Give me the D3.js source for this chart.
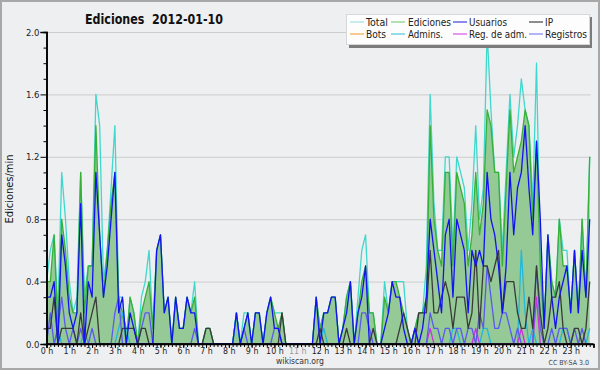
<!DOCTYPE html>
<html>
<head>
<meta charset="utf-8">
<script src="https://cdn.jsdelivr.net/npm/d3@7/dist/d3.min.js"></script>
<style>
  body { margin: 0; background: #fff; }
  svg { display: block; }
  text { font-family: "DejaVu Sans Condensed", "DejaVu Sans", sans-serif; }
</style>
</head>
<body>
<svg id="chart" width="600" height="370"></svg>
<script>
"use strict";

// values per 10 minutes, 144 slots (00:00 .. 23:50), in edits/min
var total = [
  0.4,0.6,0.7,0.2,1.1,0.8, 0.4,0.2,0.3,1.1,0.3,0.5, 0.5,1.6,1.4,0.4,0.6,1.0, 1.4,0.3,0.3,0.0,0.3,0.2,
  0.0,0.3,0.4,0.6,0.1,0.6, 0.7,0.2,0.3,0.0,0.3,0.1, 0.1,0.3,0.2,0.4,0.0,0.0, 0.1,0.1,0.0,0.0,0.0,0.0,
  0.0,0.0,0.2,0.0,0.2,0.2, 0.0,0.2,0.2,0.0,0.2,0.3, 0.2,0.2,0.2,0.0,0.0,0.0, 0.0,0.0,0.0,0.0,0.0,0.3,
  0.1,0.2,0.2,0.3,0.3,0.0, 0.1,0.3,0.4,0.0,0.3,0.6, 0.7,0.2,0.2,0.0,0.0,0.4, 0.2,0.4,0.4,0.4,0.4,0.1,
  0.0,0.1,0.2,0.2,0.5,1.6, 0.9,0.6,0.6,1.2,1.2,0.6, 1.2,1.1,1.0,0.6,0.9,1.4, 0.8,1.0,2.0,1.5,1.1,1.1,
  0.6,1.1,1.6,1.2,1.4,1.7, 1.5,1.4,0.9,1.8,0.5,0.1, 0.7,0.4,0.3,0.8,0.6,0.6, 0.2,0.6,0.2,0.8,0.3,1.2
];
var ediciones = [
  0.4,0.4,0.7,0.1,0.8,0.6, 0.3,0.2,0.2,1.1,0.2,0.5, 0.5,1.4,0.7,0.3,0.6,0.9, 1.1,0.3,0.2,0.0,0.3,0.2,
  0.0,0.2,0.3,0.4,0.1,0.6, 0.7,0.2,0.3,0.0,0.3,0.1, 0.1,0.3,0.2,0.3,0.0,0.0, 0.1,0.1,0.0,0.0,0.0,0.0,
  0.0,0.0,0.2,0.0,0.1,0.2, 0.0,0.2,0.2,0.0,0.2,0.3, 0.2,0.1,0.2,0.0,0.0,0.0, 0.0,0.0,0.0,0.0,0.0,0.3,
  0.1,0.2,0.2,0.3,0.3,0.0, 0.1,0.3,0.4,0.0,0.2,0.4, 0.5,0.2,0.2,0.0,0.0,0.3, 0.2,0.4,0.4,0.3,0.2,0.1,
  0.0,0.1,0.2,0.2,0.3,1.4, 0.8,0.6,0.5,1.1,1.1,0.5, 1.1,1.0,0.9,0.5,0.7,1.1, 0.7,0.9,1.5,1.4,1.1,1.1,
  0.5,1.0,1.5,1.1,1.2,1.3, 1.5,1.4,0.8,1.3,0.5,0.1, 0.7,0.4,0.3,0.8,0.5,0.5, 0.2,0.6,0.2,0.8,0.3,1.2
];
var usuarios = [
  0.3,0.3,0.4,0.0,0.7,0.5, 0.2,0.1,0.2,0.9,0.0,0.4, 0.3,1.1,0.7,0.3,0.5,0.8, 1.1,0.2,0.3,0.0,0.2,0.1,
  0.0,0.0,0.0,0.0,0.0,0.6, 0.7,0.2,0.3,0.0,0.3,0.1, 0.1,0.3,0.2,0.2,0.0,0.0, 0.0,0.0,0.0,0.0,0.0,0.0,
  0.0,0.0,0.2,0.0,0.1,0.2, 0.0,0.2,0.2,0.0,0.2,0.3, 0.1,0.1,0.0,0.0,0.0,0.0, 0.0,0.0,0.0,0.0,0.0,0.3,
  0.0,0.2,0.2,0.3,0.3,0.0, 0.1,0.2,0.4,0.0,0.2,0.3, 0.5,0.0,0.0,0.0,0.0,0.1, 0.2,0.4,0.3,0.3,0.1,0.0,
  0.0,0.1,0.0,0.1,0.3,0.8, 0.6,0.4,0.2,0.7,0.8,0.3, 0.8,0.7,0.6,0.2,0.6,0.5, 0.6,0.5,1.1,0.8,0.7,0.5,
  0.2,0.5,1.1,0.7,1.0,1.1, 1.4,1.0,0.7,1.3,0.8,0.1, 0.7,0.3,0.1,0.3,0.4,0.5, 0.2,0.6,0.2,0.6,0.3,0.8
];
var ip = [
  0.1,0.1,0.3,0.0,0.1,0.1, 0.1,0.1,0.0,0.2,0.0,0.1, 0.2,0.3,0.0,0.0,0.0,0.0, 0.0,0.0,0.1,0.1,0.1,0.1,
  0.0,0.1,0.1,0.0,0.0,0.0, 0.0,0.0,0.0,0.0,0.0,0.0, 0.0,0.0,0.0,0.0,0.0,0.0, 0.1,0.1,0.0,0.0,0.0,0.0,
  0.0,0.0,0.0,0.0,0.0,0.0, 0.0,0.0,0.0,0.0,0.0,0.0, 0.0,0.0,0.2,0.0,0.0,0.0, 0.0,0.0,0.0,0.0,0.0,0.0,
  0.1,0.0,0.0,0.0,0.0,0.0, 0.0,0.1,0.0,0.0,0.0,0.0, 0.0,0.0,0.1,0.0,0.0,0.0, 0.0,0.0,0.0,0.1,0.2,0.1,
  0.0,0.0,0.2,0.2,0.2,0.6, 0.2,0.2,0.3,0.4,0.3,0.1, 0.3,0.3,0.3,0.1,0.2,0.6, 0.1,0.5,0.5,0.4,0.5,0.6,
  0.2,0.4,0.4,0.4,0.2,0.1, 0.1,0.3,0.1,0.5,0.2,0.0, 0.1,0.3,0.3,0.4,0.1,0.0, 0.0,0.1,0.1,0.0,0.1,0.4
];
var registros = [
  0.0,0.2,0.0,0.1,0.3,0.1, 0.0,0.1,0.0,0.1,0.0,0.0, 0.1,0.0,0.0,0.0,0.0,0.0, 0.2,0.3,0.0,0.0,0.0,0.0,
  0.0,0.1,0.2,0.2,0.0,0.0, 0.0,0.0,0.0,0.0,0.0,0.0, 0.0,0.0,0.0,0.1,0.0,0.0, 0.0,0.0,0.0,0.0,0.0,0.0,
  0.0,0.0,0.0,0.0,0.1,0.0, 0.0,0.0,0.0,0.0,0.0,0.0, 0.1,0.1,0.0,0.0,0.0,0.0, 0.0,0.0,0.0,0.0,0.0,0.0,
  0.0,0.0,0.0,0.0,0.0,0.0, 0.0,0.0,0.0,0.0,0.0,0.2, 0.2,0.1,0.0,0.0,0.0,0.0, 0.0,0.0,0.0,0.0,0.0,0.0,
  0.0,0.1,0.0,0.0,0.0,0.2, 0.1,0.1,0.0,0.1,0.1,0.0, 0.1,0.1,0.0,0.1,0.1,0.0, 0.2,0.1,0.5,0.3,0.1,0.1,
  0.2,0.2,0.1,0.0,0.1,0.0, 0.0,0.0,0.0,0.5,0.1,0.0, 0.0,0.1,0.0,0.1,0.1,0.1, 0.0,0.1,0.0,0.1,0.0,0.0
];
var admins = [
  0.0,0.0,0.0,0.1,0.0,0.0, 0.0,0.0,0.0,0.0,0.1,0.0, 0.0,0.0,0.0,0.0,0.0,0.0, 0.0,0.1,0.2,0.1,0.0,0.0,
  0.0,0.0,0.0,0.0,0.0,0.0, 0.0,0.0,0.0,0.0,0.0,0.0, 0.0,0.0,0.0,0.0,0.0,0.0, 0.0,0.0,0.0,0.0,0.0,0.0,
  0.0,0.0,0.2,0.0,0.0,0.0, 0.0,0.0,0.0,0.0,0.0,0.0, 0.0,0.0,0.0,0.0,0.0,0.0, 0.0,0.0,0.0,0.0,0.0,0.0,
  0.0,0.1,0.0,0.0,0.0,0.0, 0.0,0.0,0.0,0.0,0.0,0.0, 0.0,0.0,0.0,0.0,0.0,0.0, 0.0,0.0,0.0,0.0,0.0,0.0,
  0.0,0.0,0.0,0.0,0.0,0.0, 0.0,0.0,0.0,0.0,0.0,0.1, 0.1,0.0,0.0,0.0,0.0,0.0, 0.0,0.1,0.1,0.0,0.0,0.0,
  0.0,0.0,0.0,0.0,0.0,0.6, 0.2,0.0,0.1,0.0,0.0,0.0, 0.0,0.0,0.0,0.0,0.1,0.1, 0.0,0.0,0.0,0.0,0.0,0.1
];
var regAdm = [
  0,0,0,0,0,0, 0,0,0,0,0,0, 0,0,0,0,0,0, 0,0,0,0,0,0,
  0,0,0,0,0,0, 0,0,0,0,0,0, 0,0,0,0,0,0, 0,0,0,0,0,0,
  0,0,0,0,0,0, 0,0,0,0,0,0, 0,0,0,0,0,0, 0,0,0,0,0,0,
  0,0,0,0,0,0, 0,0,0,0,0,0, 0,0,0,0,0,0, 0,0,0,0,0,0,
  0,0,0,0,0,0.1, 0,0,0,0,0,0, 0,0,0,0,0,0.1, 0,0,0,0,0,0,
  0,0,0,0,0,0.1, 0,0,0,0.3,0,0, 0,0,0,0,0,0, 0,0,0,0,0,0
];
var bots = [
  0,0,0,0,0,0, 0,0,0,0,0,0, 0,0,0,0,0,0, 0,0,0,0,0,0,
  0,0,0,0,0,0, 0,0,0,0,0,0, 0,0,0,0,0,0, 0,0,0,0,0,0,
  0,0,0,0,0,0, 0,0,0,0,0,0, 0,0,0,0,0,0, 0,0,0,0,0,0,
  0,0,0,0,0,0, 0,0,0,0,0,0, 0,0,0,0,0,0, 0,0,0,0,0,0,
  0,0,0,0,0,0, 0,0,0,0,0,0, 0,0,0,0,0,0, 0,0,0,0,0,0,
  0,0,0,0,0,0, 0,0,0,0,0,0, 0,0,0,0,0,0, 0,0,0,0,0,0
];

var hourLabels = ["0 h","1 h","2 h","3 h","4 h","5 h","6 h","7 h","8 h","9 h","10 h","11 h",
                  "12 h","13 h","14 h","15 h","16 h","17 h","18 h","19 h","20 h","21 h","22 h","23 h"];
var yTicks = [0.0, 0.4, 0.8, 1.2, 1.6, 2.0];
var yMinorTicks = [0.1,0.2,0.3,0.5,0.6,0.7,0.9,1.0,1.1,1.3,1.4,1.5,1.7,1.8,1.9];

var svg = d3.select("#chart");

// background + frame
svg.append("rect").attr("x", 1).attr("y", 1).attr("width", 598).attr("height", 368)
    .attr("fill", "#eeeff1").attr("stroke", "#a8a8a8").attr("stroke-width", 2);

var x = d3.scaleLinear().domain([0, 144]).range([46.5, 593.5]);
var y = d3.scaleLinear().domain([0, 2]).range([344, 32]);

// grid
svg.append("g").selectAll("line").data(yTicks.slice(1)).enter().append("line")
    .attr("x1", x(0)).attr("x2", x(143) + 1)
    .attr("y1", function(d){ return y(d) + 0.5; }).attr("y2", function(d){ return y(d) + 0.5; })
    .attr("stroke", "#cdcdcd").attr("stroke-width", 1);

// ediciones area
var area = d3.area()
    .x(function(d, i){ return x(i); })
    .y0(y(0))
    .y1(function(d){ return y(d); });
svg.append("path").datum(ediciones).attr("d", area)
    .attr("fill", "#95c995").attr("stroke", "none");

var line = d3.line()
    .x(function(d, i){ return x(i); })
    .y(function(d){ return y(d); });

var series = [
    {name: "Total", values: total, color: "#3fd8cc", legend: "#a6e2e2"},
    {name: "Ediciones", values: ediciones, color: "#36b036", legend: "#7fd07f"},
    {name: "Bots", values: bots, color: "#f0962a", legend: "#f4a64c"},
    {name: "Admins.", values: admins, color: "#22b8dc", legend: "#4cc8e0"},
    {name: "Reg. de adm.", values: regAdm, color: "#cc33dd", legend: "#d555e4"},
    {name: "Registros", values: registros, color: "#5a5af0", legend: "#8282f4"},
    {name: "IP", values: ip, color: "#3a3a3a", legend: "#444444"},
    {name: "Usuarios", values: usuarios, color: "#1212f4", legend: "#4040e4"}
];

svg.append("g").selectAll("path").data(series).enter().append("path")
    .attr("d", function(d){ return line(d.values); })
    .attr("fill", "none")
    .attr("stroke", function(d){ return d.color; })
    .attr("stroke-width", 1.3)
    .attr("stroke-linejoin", "round");

// y axis
var yAxis = svg.append("g").attr("transform", "translate(" + x(0) + ",0)")
    .call(d3.axisLeft(y).tickValues(yTicks).tickSize(6).tickPadding(1)
          .tickFormat(d3.format(".1f")));
var yMinor = svg.append("g").attr("transform", "translate(" + x(0) + ",0)")
    .call(d3.axisLeft(y).tickValues(yMinorTicks).tickSize(3).tickFormat(""));

// x axis
var xAxis = svg.append("g").attr("transform", "translate(0," + y(0) + ")")
    .call(d3.axisBottom(x).tickValues(d3.range(0, 144, 6)).tickSize(4).tickPadding(0)
          .tickFormat(function(d){ return hourLabels[d / 6]; }));
var xMinor = svg.append("g").attr("transform", "translate(0," + y(0) + ")")
    .call(d3.axisBottom(x).tickValues(d3.range(0, 145)).tickSize(3).tickFormat(""));

[yAxis, yMinor, xAxis, xMinor].forEach(function(g){
    g.select(".domain").attr("stroke", "#000").attr("stroke-width", 1.6);
    g.selectAll(".tick line").attr("stroke", "#000");
    g.selectAll("text").attr("font-family", "DejaVu Sans Condensed, DejaVu Sans, sans-serif")
        .attr("fill", "#222");
});
yAxis.selectAll("text").attr("font-size", 9.5);
xAxis.selectAll("text").attr("font-size", 8.8)
    .attr("fill", function(d){ return hourLabels[d / 6] === "11 h" ? "#9a9a9a" : "#222"; });
xMinor.select(".domain").attr("d", "M" + x(0) + ",0H" + x(144));

// title (two spaces between name and date)
svg.append("text").attr("x", 85).attr("y", 24)
    .attr("font-size", 14).attr("font-weight", "bold").attr("fill", "#111")
    .attr("textLength", 138).attr("lengthAdjust", "spacingAndGlyphs")
    .text("Ediciones\u00a0 2012-01-10");

// y label
svg.append("text").attr("transform", "translate(13,189) rotate(-90)")
    .attr("text-anchor", "middle").attr("font-size", 11).attr("fill", "#111")
    .text("Ediciones/min");

// footer
svg.append("text").attr("x", 300).attr("y", 364).attr("text-anchor", "middle")
    .attr("font-size", 9.5).attr("fill", "#333")
    .attr("textLength", 48).attr("lengthAdjust", "spacingAndGlyphs")
    .text("wikiscan.org");
svg.append("text").attr("x", 589).attr("y", 365).attr("text-anchor", "end")
    .attr("font-size", 7).attr("fill", "#444").text("CC BY-SA 3.0");

// legend
var legendOrder = ["Total", "Ediciones", "Usuarios", "IP", "Bots", "Admins.", "Reg. de adm.", "Registros"];
var legendWidths = [22, 43, 38, 8, 20, 35, 58, 42];
var lineX = [350, 391, 453, 529];
var textX = [366, 408, 469, 545];
var legend = svg.append("g");
legend.append("rect").attr("x", 349).attr("y", 17).attr("width", 243).attr("height", 31)
    .attr("fill", "#7c7c7c");
legend.append("rect").attr("x", 346.5).attr("y", 14.5).attr("width", 243).attr("height", 30)
    .attr("fill", "#fdfdfd").attr("stroke", "#d8d8d8");
var item = legend.selectAll("g.item").data(legendOrder).enter().append("g")
    .attr("transform", function(d, i){ return "translate(0," + (i < 4 ? 22 : 34) + ")"; });
item.append("line")
    .attr("x1", function(d, i){ return lineX[i % 4]; })
    .attr("x2", function(d, i){ return lineX[i % 4] + 14; })
    .attr("y1", 0).attr("y2", 0)
    .attr("stroke", function(d){ return series.find(function(s){ return s.name === d; }).legend; })
    .attr("stroke-width", 1.2);
item.append("text")
    .attr("x", function(d, i){ return textX[i % 4]; })
    .attr("y", 4).attr("font-size", 10.5).attr("fill", "#222")
    .attr("textLength", function(d, i){ return legendWidths[i]; })
    .attr("lengthAdjust", "spacingAndGlyphs")
    .text(function(d){ return d; });
</script>
</body>
</html>
